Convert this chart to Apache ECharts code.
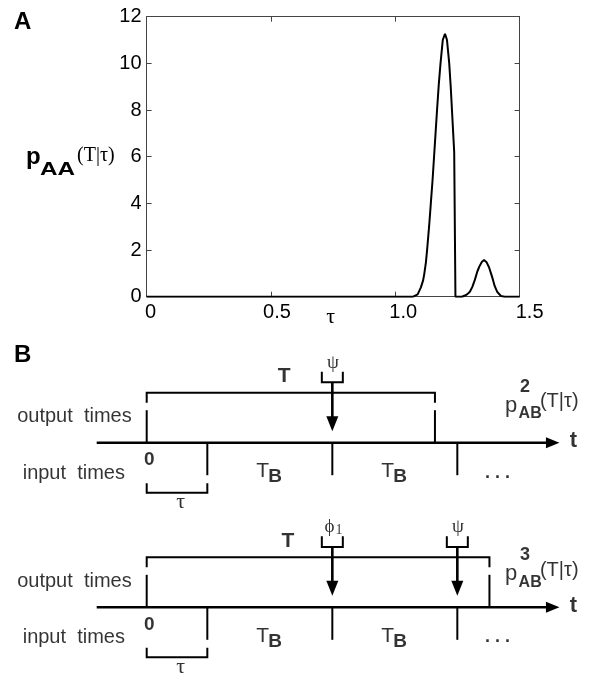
<!DOCTYPE html>
<html><head><meta charset="utf-8">
<script src="https://cdn.jsdelivr.net/npm/echarts@6/dist/echarts.min.js"></script>
<style>html,body{margin:0;padding:0;background:#fff}#c{width:608px;height:679px}</style>
</head><body><div id="c"></div>
<script>
// ---------- Panel A data ----------
const tauA = [0, 0.5, 1.0, 1.072, 1.09, 1.103, 1.112, 1.117, 1.123, 1.128, 1.136, 1.143, 1.150, 1.156, 1.162, 1.168, 1.175, 1.182, 1.191, 1.200, 1.208, 1.217, 1.223, 1.228, 1.233, 1.237, 1.242, 1.255, 1.268, 1.28, 1.29, 1.30, 1.31, 1.32, 1.33, 1.338, 1.348, 1.357, 1.367, 1.377, 1.385, 1.393, 1.40, 1.41, 1.425, 1.44, 1.5];
const pAA  = [0, 0, 0, 0, 0.1, 0.4, 0.7, 1.0, 1.45, 2.0, 3.0, 4.0, 5.0, 6.0, 7.0, 8.0, 9.1, 10.0, 11.0, 11.27, 11.0, 10.0, 9.0, 8.0, 7.0, 6.2, 0, 0, 0, 0.05, 0.11, 0.21, 0.42, 0.72, 1.08, 1.29, 1.49, 1.57, 1.48, 1.26, 1.0, 0.72, 0.45, 0.21, 0.03, 0, 0];
const xTickValues = [0, 0.5, 1.0, 1.5];
const xTickLabels = ['0', '0.5', '1.0', '1.5'];
const yTickValues = [0, 2, 4, 6, 8, 10, 12];
const yTickLabels = ['0', '2', '4', '6', '8', '10', '12'];

// ---------- Panel B data (times in units of T_B) ----------
const bTau = 0.485;
const bTB = 1.0;
const bInputSpikes = [bTau, bTau + bTB, bTau + 2 * bTB];
const bRowOrders = ['2', '3'];
const bRowOutputT = [2.306, 2.742];
const bRowArrowTimes = [[bTau + bTB], [bTau + bTB, bTau + 2 * bTB]];
const bRowArrowLabels = [['psi'], ['phi1', 'psi']];

// ---------- layout ----------
const SANS = '"Liberation Sans", Arial, sans-serif';
const SERIF = '"Liberation Serif", "Times New Roman", serif';
const rowAxisY = [102.7, 267.3];     // vertical layout units of panel B (px below y=340)
const rowLabelShift = [0, 4];
const rowTLabelX = [1.10, 1.13];
const xLabelPad = [8, 12, 16, 20];

const chart = echarts.init(document.getElementById('c'), null, {renderer: 'canvas'});

const segs = [], thick = [], heads = [], texts = [];
function txt(x, y, text, o) {
  o = o || {};
  texts.push({
    value: [x, y],
    label: {
      show: true, position: 'inside', formatter: text,
      fontFamily: o.family || SANS, fontSize: o.size || 20, fontWeight: o.weight || 'normal',
      color: '#000', align: o.align || 'center', verticalAlign: 'middle', rich: o.rich
    }
  });
}
bRowOrders.forEach((ord, r) => {
  const A = rowAxisY[r], T = bRowOutputT[r], s = rowLabelShift[r];
  segs.push([[0, A - 40], [0, A - 50], [T, A - 50], [T, A - 40]]);
  segs.push([[0, A - 32.5], [0, A]]);
  segs.push([[T, A - 32.5], [T, A]]);
  bInputSpikes.forEach(sp => segs.push([[sp, A], [sp, A + 32.5]]));
  segs.push([[0, A + 40.5], [0, A + 50], [bTau, A + 50], [bTau, A + 40.5]]);
  bRowArrowTimes[r].forEach((t, k) => {
    segs.push([[t - 0.084, A - 71], [t - 0.084, A - 60.4], [t + 0.084, A - 60.4], [t + 0.084, A - 71]]);
    thick.push([[t, A - 60.4], [t, A - 19]]);
    heads.push({value: [t, A - 19], symbolRotate: 180, symbolSize: [12, 15]});
    const lab = bRowArrowLabels[r][k];
    if (lab === 'psi') txt(t + 0.005, A - 80, 'ψ', {family: SERIF, size: 19});
    else txt(t + 0.01, A - 80, '{a|ϕ}{b|1}', {family: SERIF, size: 19,
      rich: {a: {fontFamily: SERIF, fontSize: 19, color: '#000'}, b: {fontFamily: SERIF, fontSize: 14, color: '#000', padding: [6, 0, 0, 1]}}});
  });
  thick.push([[-0.4, A], [3.25, A]]);
  heads.push({value: [3.248, A], symbolRotate: -90, symbolSize: [11, 13.5]});

  txt(-0.12, A - 26, 'output  times', {align: 'right', size: 20});
  txt(-0.174, A + 30.5, 'input  times', {align: 'right', size: 20});
  txt(0.02, A + 17.5, '0', {weight: 'bold', size: 19});
  txt(bTau / 2 + 0.03, A + 60, 'τ', {family: SERIF, size: 22});
  for (let i = 0; i < bInputSpikes.length - 1; i++) {
    const m = (bInputSpikes[i] + bInputSpikes[i + 1]) / 2;
    txt(m - 0.058, A + 28.8, 'T', {size: 21});
    txt(m + 0.042, A + 34, 'B', {size: 19, weight: 'bold'});
  }
  txt(2.806, A + 30, '. . .', {weight: 'bold', size: 18});
  txt(rowTLabelX[r], A - 66, 'T', {size: 21, weight: 'bold'});
  txt(3.414, A - 1.5, 't', {weight: 'bold', size: 22});
  txt(2.866, A - 37 + s, 'p', {align: 'left', size: 22});
  txt(2.975, A - 29 + s, 'AB', {align: 'left', size: 16, weight: 'bold'});
  txt(3.026, A - 56 + s, ord, {size: 18, weight: 'bold'});
  txt(3.146, A - 41 + s, '(T|τ)', {align: 'left', size: 20});
});

const xRich = {};
xLabelPad.forEach((p, i) => { xRich['s' + i] = {fontSize: 20, fontFamily: SANS, color: '#000', padding: [0, 0, 0, p]}; });

const frameColor = '#444';
const option = {
  animation: false,
  backgroundColor: '#fff',
  grid: [
    {left: 146.6, top: 16.7, width: 373, height: 280, containLabel: false, outerBoundsMode: 'none'},
    {left: 146.7 - 0.5 * 125, top: 340, width: 500, height: 339, containLabel: false, outerBoundsMode: 'none'}
  ],
  xAxis: [
    {type: 'value', gridIndex: 0, min: 0, max: 1.5, interval: 0.5, position: 'bottom',
     axisLine: {show: true, onZero: false, lineStyle: {color: frameColor, width: 1}},
     axisTick: {show: true, inside: true, length: 5, lineStyle: {color: frameColor}},
     axisLabel: {show: true, fontSize: 20, fontFamily: SANS, color: '#000', margin: 6, showMinLabel: true, showMaxLabel: true,
       hideOverlap: false, rich: xRich,
       formatter: v => { const i = xTickValues.findIndex(t => Math.abs(t - v) < 1e-6); return '{s' + i + '|' + xTickLabels[i] + '}'; }},
     splitLine: {show: false},
     name: 'τ', nameLocation: 'middle', nameGap: 10, nameMoveOverlap: false,
     nameTextStyle: {fontFamily: SERIF, fontSize: 22, color: '#000', padding: [0, 5, 0, 0]}},
    {type: 'value', gridIndex: 0, min: 0, max: 1.5, interval: 0.5, position: 'top',
     axisLine: {show: true, onZero: false, lineStyle: {color: frameColor, width: 1}},
     axisTick: {show: true, inside: true, length: 5, lineStyle: {color: frameColor}},
     axisLabel: {show: false}, splitLine: {show: false}},
    {type: 'value', gridIndex: 1, min: -0.5, max: 3.5, show: false}
  ],
  yAxis: [
    {type: 'value', gridIndex: 0, min: 0, max: 12, interval: 2, position: 'left',
     axisLine: {show: true, onZero: false, lineStyle: {color: frameColor, width: 1}},
     axisTick: {show: true, inside: true, length: 5, lineStyle: {color: frameColor}},
     axisLabel: {show: true, fontSize: 20, fontFamily: SANS, color: '#000', margin: 5, showMinLabel: true, showMaxLabel: true,
       formatter: v => yTickLabels[yTickValues.indexOf(Math.round(v))]},
     splitLine: {show: false}},
    {type: 'value', gridIndex: 0, min: 0, max: 12, interval: 2, position: 'right',
     axisLine: {show: true, onZero: false, lineStyle: {color: frameColor, width: 1}},
     axisTick: {show: true, inside: true, length: 5, lineStyle: {color: frameColor}},
     axisLabel: {show: false}, splitLine: {show: false}},
    {type: 'value', gridIndex: 1, min: 0, max: 339, inverse: true, show: false}
  ],
  series: [
    {type: 'line', xAxisIndex: 0, yAxisIndex: 0, data: tauA.map((t, i) => [t, pAA[i]]),
     showSymbol: false, smooth: false, lineStyle: {color: '#000', width: 2}, z: 5},
    {type: 'lines', coordinateSystem: 'cartesian2d', xAxisIndex: 2, yAxisIndex: 2, polyline: true,
     data: segs.map(c => ({coords: c})), lineStyle: {color: '#000', width: 2, opacity: 1, curveness: 0}, silent: true},
    {type: 'lines', coordinateSystem: 'cartesian2d', xAxisIndex: 2, yAxisIndex: 2, polyline: true,
     data: thick.map(c => ({coords: c})), lineStyle: {color: '#000', width: 2.6, opacity: 1, curveness: 0}, silent: true},
    {type: 'scatter', xAxisIndex: 2, yAxisIndex: 2, symbol: 'triangle', data: heads,
     itemStyle: {color: '#000', opacity: 1}, silent: true, clip: false},
    {type: 'scatter', xAxisIndex: 2, yAxisIndex: 2, symbolSize: 0, data: texts,
     itemStyle: {color: 'rgba(0,0,0,0)'}, silent: true, clip: false}
  ],
  graphic: [
    {type: 'text', x: 14, y: 22, style: {text: 'A', fontFamily: SANS, fontSize: 24, fontWeight: 'bold', fill: '#000', align: 'left', verticalAlign: 'middle'}},
    {type: 'text', x: 14, y: 355, style: {text: 'B', fontFamily: SANS, fontSize: 24, fontWeight: 'bold', fill: '#000', align: 'left', verticalAlign: 'middle'}},
    {type: 'text', x: 26, y: 157, style: {text: 'p', fontFamily: SANS, fontSize: 24, fontWeight: 'bold', fill: '#000', align: 'left', verticalAlign: 'middle'}},
    {type: 'text', x: 40, y: 170.5, scaleX: 1.35, style: {text: 'AA', fontFamily: SANS, fontSize: 18, fontWeight: 'bold', fill: '#000', align: 'left', verticalAlign: 'middle'}},
    {type: 'text', x: 77, y: 156, style: {text: '(T|τ)', fontFamily: SERIF, fontSize: 20, fill: '#000', align: 'left', verticalAlign: 'middle'}}
  ]
};
chart.setOption(option);
</script>
</body></html>
